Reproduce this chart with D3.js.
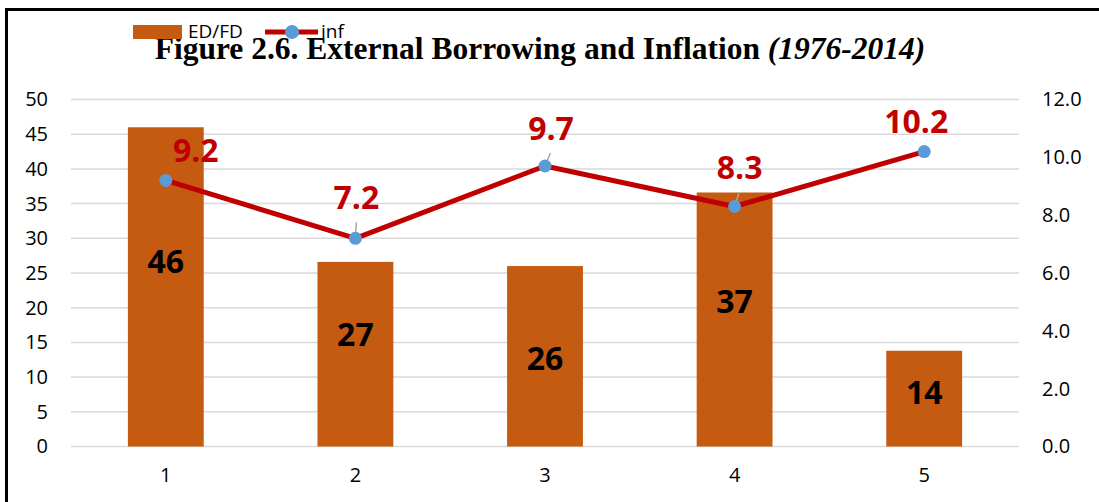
<!DOCTYPE html>
<html>
<head>
<meta charset="utf-8">
<script src="https://cdn.jsdelivr.net/npm/d3@7"></script>
<style>
  html, body { margin: 0; padding: 0; background: #fff; }
  svg { display: block; }
</style>
</head>
<body>
<svg id="chart" width="1099" height="502"></svg>
<script>
// Chart data
const categories = ["1", "2", "3", "4", "5"];
const edfd = [46, 26.6, 26.0, 36.6, 13.8];       // ED/FD (bars, left axis)
const inf = [9.2, 7.2, 9.7, 8.3, 10.2];          // inflation (line, right axis)
const leftTicks = [0, 5, 10, 15, 20, 25, 30, 35, 40, 45, 50];
const rightTicks = [0, 2, 4, 6, 8, 10, 12];

// Hand-placed label nudges (pixels)
const barLabelDy = [-25, -20, 2, -18, -6];
const lineLabelDx = [30, 1, 6, 5, -8];
const lineLabelDy = [-30, -41, -38, -39, -30];

const svg = d3.select("#chart");
const plot = { left: 71, right: 1019, top: 99.5, bottom: 446.5 };

// frame
svg.append("rect")
  .attr("x", 6.5).attr("y", 9.5)
  .attr("width", 1200).attr("height", 1000)
  .attr("fill", "none").attr("stroke", "#000").attr("stroke-width", 3);

const x = d3.scaleBand().domain(categories)
  .range([plot.left, plot.right]).paddingInner(0.6).paddingOuter(0.3);
const yL = d3.scaleLinear().domain([0, 50]).range([plot.bottom, plot.top]);
const yR = d3.scaleLinear().domain([0, 12]).range([plot.bottom, plot.top]);

const sans = "'Open Sans', 'Noto Sans', sans-serif";

// gridlines
svg.append("g").selectAll("line").data(leftTicks).join("line")
  .attr("x1", plot.left).attr("x2", plot.right)
  .attr("y1", d => yL(d)).attr("y2", d => yL(d))
  .attr("stroke", "#D9D9D9").attr("stroke-width", 1.5);

// left axis
const axL = svg.append("g").attr("transform", `translate(${plot.left - 23},0)`)
  .call(d3.axisLeft(yL).tickValues(leftTicks).tickSize(0).tickPadding(0));
axL.select(".domain").remove();
axL.selectAll("text").attr("font-family", sans).attr("font-size", 20).attr("fill", "#000");

// right axis
const axR = svg.append("g").attr("transform", `translate(${plot.right + 23},0)`)
  .call(d3.axisRight(yR).tickValues(rightTicks).tickFormat(d3.format(".1f")).tickSize(0).tickPadding(0));
axR.select(".domain").remove();
axR.selectAll("text").attr("font-family", sans).attr("font-size", 20).attr("fill", "#000");

// bottom axis
const axB = svg.append("g").attr("transform", `translate(0,${plot.bottom + 21})`)
  .call(d3.axisBottom(x).tickSize(0).tickPadding(0));
axB.select(".domain").remove();
axB.selectAll("text").attr("font-family", sans).attr("font-size", 20).attr("fill", "#000")
  .attr("dy", "0.71em");

// bars
svg.append("g").selectAll("rect").data(edfd).join("rect")
  .attr("x", (d, i) => x(categories[i]))
  .attr("y", d => yL(d))
  .attr("width", x.bandwidth())
  .attr("height", d => yL(0) - yL(d))
  .attr("fill", "#C55A11");

// bar value labels
svg.append("g").selectAll("text").data(edfd).join("text")
  .attr("x", (d, i) => x(categories[i]) + x.bandwidth() / 2)
  .attr("y", (d, i) => (yL(d) + yL(0)) / 2 + barLabelDy[i])
  .attr("dy", "0.36em")
  .attr("text-anchor", "middle")
  .attr("font-family", sans).attr("font-weight", 700).attr("font-size", 32)
  .attr("fill", "#000")
  .text(d => d3.format(".0f")(d));

const cx = i => x(categories[i]) + x.bandwidth() / 2;

// inflation line
svg.append("path").datum(inf)
  .attr("d", d3.line().x((d, i) => cx(i)).y(d => yR(d)))
  .attr("fill", "none").attr("stroke", "#C00000").attr("stroke-width", 5)
  .attr("stroke-linejoin", "round");

// leader lines for labels pulled away from their points
const leaderIdx = d3.range(inf.length).filter(i => Math.abs(lineLabelDy[i]) > 35);
svg.append("g").selectAll("line").data(leaderIdx).join("line")
  .attr("x1", i => cx(i))
  .attr("y1", i => yR(inf[i]))
  .attr("x2", i => cx(i) + lineLabelDx[i] * 0.9)
  .attr("y2", i => yR(inf[i]) + lineLabelDy[i] + 25)
  .attr("stroke", "#A6A6A6").attr("stroke-width", 1.5);

// markers
svg.append("g").selectAll("circle").data(inf).join("circle")
  .attr("cx", (d, i) => cx(i)).attr("cy", d => yR(d)).attr("r", 6.5)
  .attr("fill", "#5B9BD5");

// line value labels
svg.append("g").selectAll("text").data(inf).join("text")
  .attr("x", (d, i) => cx(i) + lineLabelDx[i])
  .attr("y", (d, i) => yR(d) + lineLabelDy[i])
  .attr("dy", "0.36em")
  .attr("text-anchor", "middle")
  .attr("font-family", sans).attr("font-weight", 700).attr("font-size", 32)
  .attr("fill", "#C00000")
  .text(d => d3.format(".1f")(d));

// title
const title = svg.append("text")
  .attr("x", 540).attr("y", 59)
  .attr("text-anchor", "middle")
  .attr("font-family", "'Liberation Serif', 'Times New Roman', serif")
  .attr("font-weight", 700).attr("font-size", 31.5).attr("fill", "#000");
title.append("tspan").text("Figure 2.6. External Borrowing and Inflation ");
title.append("tspan").attr("font-style", "italic").text("(1976-2014)");

// legend
const lg = svg.append("g");
lg.append("rect").attr("x", 133).attr("y", 25).attr("width", 49).attr("height", 14).attr("fill", "#C55A11");
lg.append("text").attr("x", 188).attr("y", 38)
  .attr("font-family", sans).attr("font-size", 19).attr("fill", "#000").text("ED/FD");
lg.append("line").attr("x1", 265).attr("x2", 318).attr("y1", 32).attr("y2", 32)
  .attr("stroke", "#C00000").attr("stroke-width", 5);
lg.append("circle").attr("cx", 292).attr("cy", 32).attr("r", 7).attr("fill", "#5B9BD5");
lg.append("text").attr("x", 321).attr("y", 38)
  .attr("font-family", sans).attr("font-size", 19).attr("fill", "#000").text("inf");
</script>
</body>
</html>
